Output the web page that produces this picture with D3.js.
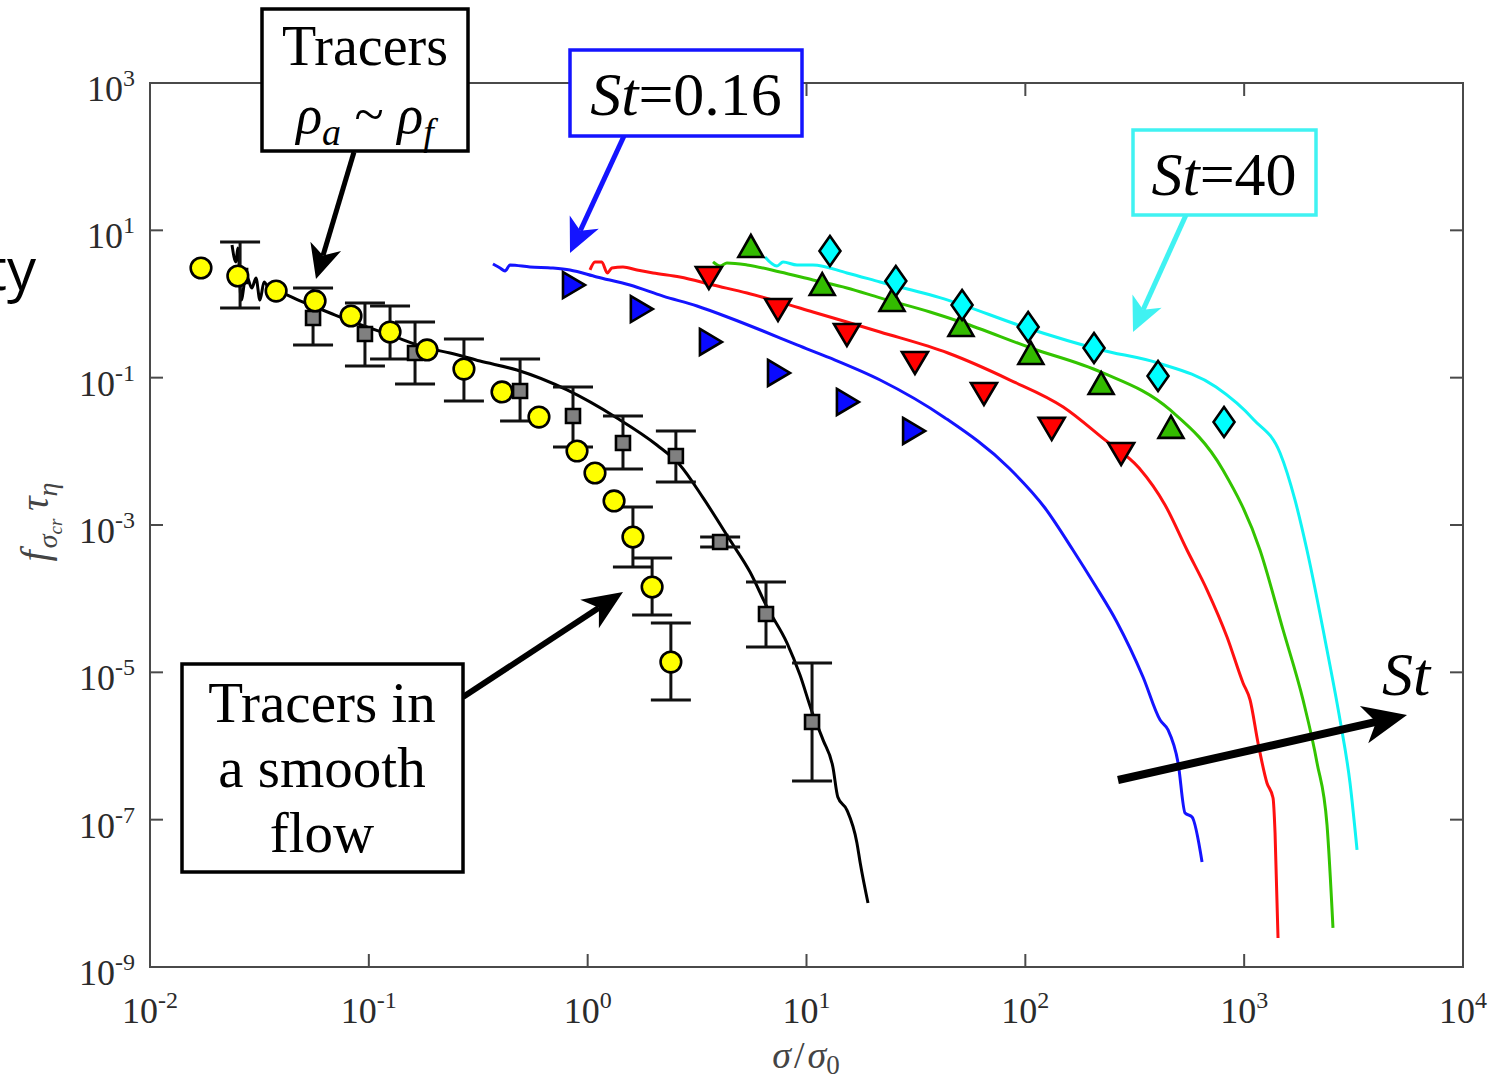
<!DOCTYPE html>
<html><head><meta charset="utf-8">
<script src="https://cdn.jsdelivr.net/npm/d3@7"></script>
<style>body{margin:0;background:#fff;} svg{display:block} .sf{font-family:"Liberation Serif","Tinos","Times New Roman","DejaVu Serif","Noto Serif",serif;}</style>
</head><body>
<svg id="c" width="1508" height="1081"></svg>
<script>
// ---------- tick values ----------
const xTicks = [1e-2, 1e-1, 1e0, 1e1, 1e2, 1e3, 1e4];
const xTickExp = ["-2", "-1", "0", "1", "2", "3", "4"];
const yTicks = [1e3, 1e1, 1e-1, 1e-3, 1e-5, 1e-7, 1e-9];
const yTickExp = ["3", "1", "-1", "-3", "-5", "-7", "-9"];

// ---------- tracers in a smooth flow (yellow circles) ----------
const smoothX = [0.0171, 0.0252, 0.0377, 0.0568, 0.0829, 0.125, 0.1845, 0.272, 0.406, 0.599, 0.894, 1.08, 1.32, 1.61, 1.97, 2.40];
const smoothY = [3.08, 2.40, 1.50, 1.10, 0.687, 0.417, 0.238, 0.131, 0.064, 0.0292, 0.0101, 0.00508, 0.00212, 6.87e-4, 1.44e-4, 1.38e-5];
const smoothLo = [null, null, null, null, null, 0.179, null, 0.0482, null, null, null, null, null, 2.69e-4, 6.0e-5, 4.2e-6];
const smoothHi = [null, null, null, null, null, 0.94, null, 0.335, null, null, null, null, null, 0.00176, 3.57e-4, 4.68e-5];

// ---------- tracers rho_a ~ rho_f (grey squares) ----------
const tracerX = [0.0258, 0.0556, 0.096, 0.1626, 0.491, 0.857, 1.45, 2.53, 4.03, 6.53, 10.6];
const tracerY = [2.40, 0.646, 0.392, 0.216, 0.0659, 0.0302, 0.0130, 0.00865, 5.88e-4, 6.2e-5, 2.12e-6];
const tracerLo = [0.883, 0.278, 0.144, 0.082, 0.0258, 0.01146, 0.00575, 0.00384, 5.03e-4, 2.21e-5, 3.35e-7];
const tracerHi = [6.95, 1.65, 1.03, 0.570, 0.179, 0.0747, 0.0302, 0.0189, 6.87e-4, 1.69e-4, 1.34e-5];

// ---------- black curve (tracers) ----------
const tracerLineX = [0.0237, 0.0247, 0.0252, 0.0261, 0.0275, 0.0292, 0.0305, 0.0318, 0.0332, 0.0353, 0.0377, 0.0485, 0.0665, 0.0847, 0.125, 0.1845, 0.235, 0.322, 0.475, 0.805, 1.36, 2.07, 2.64, 3.37, 4.47, 5.52, 6.60, 8.15, 9.34, 10.6, 11.9, 13.2, 13.9, 15.3, 17.0, 17.6, 19.1];
const tracerLineY = [6.32, 3.72, 5.75, 1.13, 2.48, 1.65, 2.25, 1.13, 1.99, 1.55, 1.50, 1.10, 0.755, 0.570, 0.380, 0.253, 0.216, 0.168, 0.127, 0.0681, 0.0284, 0.0122, 0.00653, 0.00233, 6.25e-4, 2.30e-4, 7.71e-5, 2.50e-5, 9.2e-6, 2.90e-6, 1.21e-6, 5.19e-7, 2.03e-7, 1.35e-7, 4.83e-8, 2.58e-8, 7.4e-9];

// ---------- St = 0.16 (blue) ----------
const blueLineX = [0.369, 0.398, 0.419, 0.442, 0.545, 0.694, 0.830, 1.10, 1.56, 2.21, 3.16, 4.47, 6.33, 9.05, 12.8, 21.7, 43.0, 84.2, 123, 165, 208, 262, 345, 413, 449, 499, 537, 578, 642];
const blueLineY = [3.49, 3.08, 2.81, 3.39, 3.18, 3.08, 2.90, 2.33, 1.81, 1.28, 0.940, 0.646, 0.430, 0.278, 0.185, 0.0929, 0.0284, 0.00594, 0.00170, 4.58e-4, 1.53e-4, 4.83e-5, 8.65e-6, 2.25e-6, 1.65e-6, 5.89e-7, 1.23e-7, 1.09e-7, 2.67e-8];
const blueMarkX = [0.857, 1.75, 3.62, 7.41, 15.3, 30.7];
const blueMarkY = [1.81, 0.855, 0.305, 0.116, 0.0468, 0.0189];

// ---------- red ----------
const redLineX = [1.025, 1.08, 1.16, 1.23, 1.29, 1.45, 1.68, 1.99, 2.64, 3.74, 5.35, 7.57, 10.7, 15.3, 21.7, 44.3, 85.1, 149, 231, 331, 435, 548, 677, 835, 988, 1064, 1157, 1271, 1355, 1384, 1428];
const redLineY = [2.90, 3.72, 3.72, 2.64, 3.08, 3.18, 2.90, 2.64, 2.33, 1.81, 1.41, 1.06, 0.780, 0.570, 0.417, 0.216, 0.0929, 0.040, 0.0143, 0.00594, 0.00187, 4.58e-4, 1.31e-4, 3.02e-5, 7.18e-6, 4.22e-6, 1.10e-6, 3.15e-7, 1.97e-7, 6.59e-8, 2.48e-9];
const redMarkX = [3.58, 7.41, 15.3, 31.3, 64.7, 132, 274];
const redMarkY = [2.33, 0.855, 0.392, 0.163, 0.0619, 0.0208, 0.0095];

// ---------- green ----------
const greenLineX = [3.74, 4.03, 4.33, 5.35, 7.57, 10.7, 15.3, 21.7, 36.7, 50.8, 106, 222, 459, 800, 1181, 1506, 1858, 2153, 2391, 2546];
const greenLineY = [3.72, 3.28, 3.60, 3.39, 2.72, 2.12, 1.65, 1.21, 0.780, 0.570, 0.253, 0.119, 0.0364, 0.00558, 4.58e-4, 3.76e-5, 4.22e-6, 5.89e-7, 8.47e-8, 3.39e-9];
const greenMarkX = [5.57, 11.8, 24.6, 50.8, 106, 222, 463];
const greenMarkY = [5.94, 1.81, 1.10, 0.503, 0.210, 0.082, 0.0208];

// ---------- St = 40 (cyan) ----------
const cyanLineX = [6.46, 7.33, 7.81, 9.05, 10.7, 15.3, 21.7, 44.3, 98.6, 222, 404, 744, 1109, 1459, 1707, 1936, 2391, 2742, 3046, 3280];
const cyanLineY = [4.35, 3.28, 3.72, 3.39, 3.39, 2.64, 1.99, 1.13, 0.488, 0.238, 0.158, 0.0747, 0.0267, 0.0095, 0.00219, 4.58e-4, 2.01e-5, 2.25e-6, 3.15e-7, 3.88e-8];
const cyanMarkX = [12.8, 25.6, 51.4, 103, 206, 404, 809];
const cyanMarkY = [5.25, 2.05, 0.970, 0.488, 0.253, 0.105, 0.0250];

// ---------- layout ----------
const W = 1508, H = 1081;
const L = 150, R = 1463, T = 83, B = 967;
const svg = d3.select("#c");
svg.append("rect").attr("width", W).attr("height", H).attr("fill", "#fff");

const x = d3.scaleLog().domain([1e-2, 1e4]).range([L, R]);
const y = d3.scaleLog().domain([1e-9, 1e3]).range([B, T]);

const zip = (a, b) => a.map((v, i) => [v, b[i]]);
const line = d3.line().x(d => x(d[0])).y(d => y(d[1])).curve(d3.curveMonotoneX);

// partial word at left edge (cut off in the original)
svg.append("text").attr("x", 36).attr("y", 290).attr("text-anchor", "end")
  .attr("font-family", "'Open Sans',sans-serif").attr("font-size", 58).attr("fill", "#000").text("ity");

// axes box
const axisColor = "#4a4a4a";
const ax = svg.append("g");
ax.append("rect").attr("x", L).attr("y", T).attr("width", R - L).attr("height", B - T)
  .attr("fill", "none").attr("stroke", axisColor).attr("stroke-width", 2);
xTicks.forEach(t => {
  ax.append("line").attr("x1", x(t)).attr("x2", x(t)).attr("y1", B).attr("y2", B - 13).attr("stroke", axisColor).attr("stroke-width", 2);
  ax.append("line").attr("x1", x(t)).attr("x2", x(t)).attr("y1", T).attr("y2", T + 13).attr("stroke", axisColor).attr("stroke-width", 2);
});
yTicks.forEach(t => {
  ax.append("line").attr("x1", L).attr("x2", L + 13).attr("y1", y(t)).attr("y2", y(t)).attr("stroke", axisColor).attr("stroke-width", 2);
  ax.append("line").attr("x1", R).attr("x2", R - 13).attr("y1", y(t)).attr("y2", y(t)).attr("stroke", axisColor).attr("stroke-width", 2);
});
// tick labels
const labColor = "#2b2b2b";
xTicks.forEach((t, i) => {
  const tx = ax.append("text").attr("class", "sf").attr("x", x(t)).attr("y", B + 56).attr("text-anchor", "middle")
    .attr("font-size", 36).attr("fill", labColor);
  tx.append("tspan").text("10");
  tx.append("tspan").attr("dy", -15).attr("font-size", 24).text(xTickExp[i]);
});
yTicks.forEach((t, i) => {
  const tx = ax.append("text").attr("class", "sf").attr("x", 135).attr("y", y(t) + 18).attr("text-anchor", "end")
    .attr("font-size", 36).attr("fill", labColor);
  tx.append("tspan").text("10");
  tx.append("tspan").attr("dy", -15).attr("font-size", 24).text(yTickExp[i]);
});
// axis titles
const xl = svg.append("text").attr("class", "sf").attr("x", 806).attr("y", 1068).attr("text-anchor", "middle")
  .attr("font-size", 38).attr("fill", "#444");
xl.append("tspan").attr("font-style", "italic").text("σ");
xl.append("tspan").attr("dx", 3).text("/");
xl.append("tspan").attr("dx", 3).attr("font-style", "italic").text("σ");
xl.append("tspan").attr("dy", 6).attr("font-size", 27).text("0");

const yl = svg.append("text").attr("class", "sf").attr("transform", "translate(48,522) rotate(-90)").attr("text-anchor", "middle")
  .attr("font-size", 40).attr("fill", "#444").attr("font-style", "italic");
yl.append("tspan").text("f");
yl.append("tspan").attr("dy", 9).attr("dx", 2).attr("font-size", 28).text("σ");
yl.append("tspan").attr("dy", 5).attr("font-size", 19).text("cr");
yl.append("tspan").attr("dy", -14).attr("dx", 8).text("τ");
yl.append("tspan").attr("dy", 9).attr("font-size", 28).text("η");

// ---------- curves ----------
const plot = svg.append("g");
const curves = [
  [blueLineX, blueLineY, "#1414ff"],
  [redLineX, redLineY, "#ff1010"],
  [greenLineX, greenLineY, "#33c400"],
  [cyanLineX, cyanLineY, "#10f4f4"]
];
curves.forEach(([cx, cy, col]) => {
  plot.append("path").attr("d", line(zip(cx, cy))).attr("fill", "none").attr("stroke", col)
    .attr("stroke-width", 3).attr("stroke-linejoin", "round");
});
plot.append("path").attr("d", line(zip(tracerLineX, tracerLineY))).attr("fill", "none").attr("stroke", "#000")
  .attr("stroke-width", 3).attr("stroke-linejoin", "round");

// error bars
function errBars(xs, lo, hi) {
  xs.forEach((v, i) => {
    if (lo[i] == null) return;
    const px = x(v), y1 = y(lo[i]), y2 = y(hi[i]);
    plot.append("line").attr("x1", px).attr("x2", px).attr("y1", y1).attr("y2", y2).attr("stroke", "#111").attr("stroke-width", 3);
    [y1, y2].forEach(yy => plot.append("line").attr("x1", px - 20).attr("x2", px + 20).attr("y1", yy).attr("y2", yy)
      .attr("stroke", "#111").attr("stroke-width", 3));
  });
}
errBars(tracerX, tracerLo, tracerHi);
errBars(smoothX, smoothLo, smoothHi);

// markers
function marks(xs, ys, pathD, fill) {
  plot.append("g").selectAll("path").data(zip(xs, ys)).join("path")
    .attr("d", pathD).attr("transform", d => `translate(${x(d[0])},${y(d[1])})`)
    .attr("fill", fill).attr("stroke", "#000").attr("stroke-width", 2.6).attr("stroke-linejoin", "miter");
}
marks(tracerX, tracerY, "M-7,-7H7V7H-7Z", "#808080");
plot.append("g").selectAll("circle").data(zip(smoothX, smoothY)).join("circle")
  .attr("cx", d => x(d[0])).attr("cy", d => y(d[1])).attr("r", 10.3)
  .attr("fill", "#ffff00").attr("stroke", "#000").attr("stroke-width", 2.6);
marks(blueMarkX, blueMarkY, "M-10,-13L12,0L-10,13Z", "#0a0aff");
marks(redMarkX, redMarkY, "M-13,-10L13,-10L0,12Z", "#ff0000");
marks(greenMarkX, greenMarkY, "M0,-12L12.5,10L-12.5,10Z", "#33bb00");
marks(cyanMarkX, cyanMarkY, "M0,-15L10.5,0L0,15L-10.5,0Z", "#00ffff");

// ---------- annotations ----------
const ann = svg.append("g");
function arrow(x1, y1, x2, y2, col, w, len, hw) {
  const a = Math.atan2(y2 - y1, x2 - x1);
  const ca = Math.cos(a), sa = Math.sin(a);
  const bx = x2 - len * ca, by = y2 - len * sa;
  const nx = x2 - len * 0.72 * ca, ny = y2 - len * 0.72 * sa;
  ann.append("line").attr("x1", x1).attr("y1", y1).attr("x2", nx).attr("y2", ny)
    .attr("stroke", col).attr("stroke-width", w);
  ann.append("path").attr("d", `M${x2},${y2}L${bx - hw * sa},${by + hw * ca}L${nx},${ny}L${bx + hw * sa},${by - hw * ca}Z`)
    .attr("fill", col);
}
function box(bx, by, bw, bh, col) {
  ann.append("rect").attr("x", bx).attr("y", by).attr("width", bw).attr("height", bh)
    .attr("fill", "#fff").attr("stroke", col).attr("stroke-width", 3.5);
}
arrow(354, 152, 316, 279, "#000", 5, 34, 16);
arrow(624, 136, 570, 253, "#1414ff", 5, 34, 16);
arrow(1186, 215, 1133, 332, "#40f2f2", 5, 34, 16);
arrow(463, 697, 623, 592, "#000", 6, 40, 17);
arrow(1118, 780, 1407, 715, "#000", 8, 44, 19);

box(262, 9, 206, 142, "#000");
ann.append("text").attr("class", "sf").attr("x", 365).attr("y", 65).attr("text-anchor", "middle")
  .attr("font-size", 56).text("Tracers");
const rho = ann.append("text").attr("class", "sf").attr("x", 365).attr("y", 133).attr("text-anchor", "middle")
  .attr("font-size", 54);
rho.append("tspan").attr("font-style", "italic").text("ρ");
rho.append("tspan").attr("font-style", "italic").attr("font-size", 38).attr("dy", 12).text("a");
rho.append("tspan").attr("dy", -12).text(" ~ ");
rho.append("tspan").attr("font-style", "italic").text("ρ");
rho.append("tspan").attr("font-style", "italic").attr("font-size", 38).attr("dy", 12).text("f");

box(570, 50, 232, 86, "#1414ff");
const s1 = ann.append("text").attr("class", "sf").attr("x", 686).attr("y", 115).attr("text-anchor", "middle").attr("font-size", 62);
s1.append("tspan").attr("font-style", "italic").text("St");
s1.append("tspan").text("=0.16");

box(1133, 130, 183, 85, "#40f2f2");
const s2 = ann.append("text").attr("class", "sf").attr("x", 1224).attr("y", 195).attr("text-anchor", "middle").attr("font-size", 62);
s2.append("tspan").attr("font-style", "italic").text("St");
s2.append("tspan").text("=40");

box(182, 664, 281, 208, "#000");
["Tracers in", "a smooth", "flow"].forEach((t, i) => {
  ann.append("text").attr("class", "sf").attr("x", 322).attr("y", 722 + i * 65).attr("text-anchor", "middle")
    .attr("font-size", 57).text(t);
});

ann.append("text").attr("class", "sf").attr("x", 1382).attr("y", 695).attr("font-size", 62)
  .attr("font-style", "italic").text("St");
</script>
</body></html>
